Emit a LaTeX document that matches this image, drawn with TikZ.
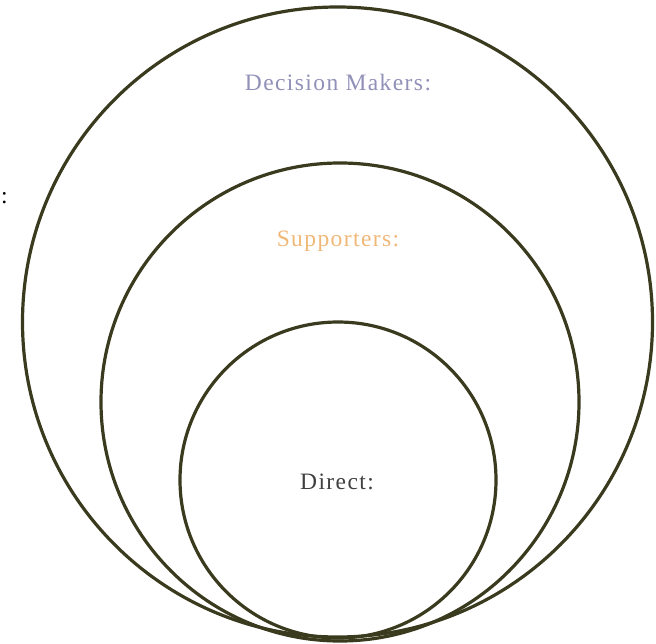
\documentclass[tikz,border=0pt]{standalone}
\usepackage{fontspec}
\setmainfont{Liberation Serif}[LetterSpace=6]
\definecolor{ringcol}{HTML}{3A3A1E}
\definecolor{dmcol}{HTML}{9090B8}
\definecolor{supcol}{HTML}{F0B878}
\definecolor{dircol}{HTML}{404040}
\begin{document}
\begin{tikzpicture}[x=1pt,y=-1pt,
  ring/.style={draw=ringcol,line width=3.2pt,circle,inner sep=0pt},
  lbl/.style={font=\fontsize{23.5}{26}\selectfont,inner sep=0pt}]
\useasboundingbox (0,0) rectangle (656,643);
\node[ring,minimum size=630pt] (outer) at (337.5,322) {};
\node[ring,minimum size=478pt] (middle) at (340,402) {};
\node[ring,minimum size=316pt] (inner) at (338,480) {};
\node[lbl,text=dmcol] (dm) at (338,83) {Decision Makers:};
\node[lbl,text=supcol] (sup) at (338,241) {Supporters:};
\node[lbl,text=dircol] (dir) at (337,482) {Direct:};
\node[lbl,anchor=west,text=black] (colon) at (1,198) {:};
\end{tikzpicture}
\end{document}
